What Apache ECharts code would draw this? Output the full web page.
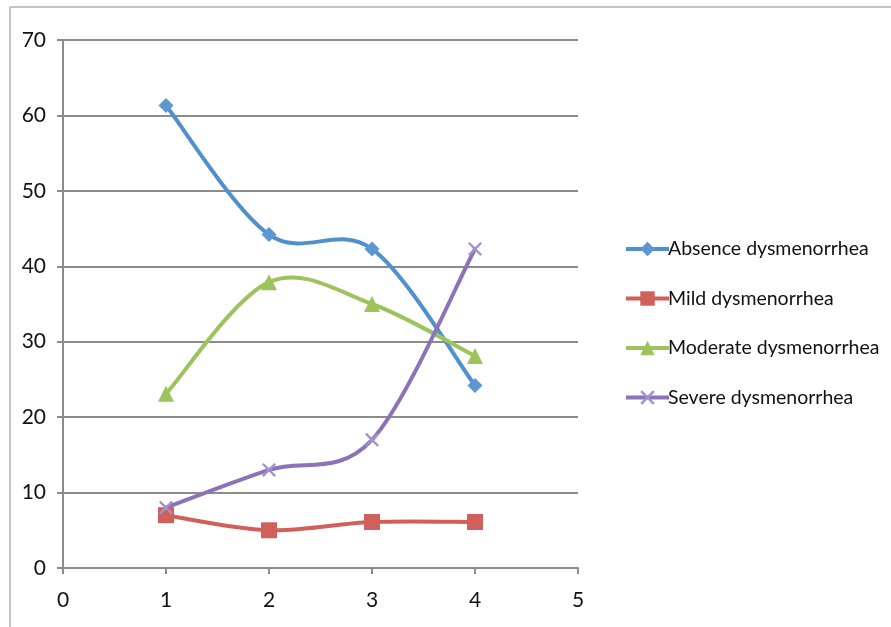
<!DOCTYPE html>
<html>
<head>
<meta charset="utf-8">
<script src="https://cdn.jsdelivr.net/npm/echarts@6/dist/echarts.min.js"></script>
<style>html,body{margin:0;padding:0;background:#fff;}#c{width:891px;height:627px;}</style>
</head>
<body>
<div id="c"></div>
<script>
const xValues = [1, 2, 3, 4];
const seriesNames = ['Absence dysmenorrhea', 'Mild dysmenorrhea', 'Moderate dysmenorrhea', 'Severe dysmenorrhea'];
const absence = [61.3, 44.2, 42.3, 24.2];
const mild = [7, 5, 6.1, 6.1];
const moderate = [23.1, 37.9, 35, 28.1];
const severe = [8, 13, 17, 42.3];
const xTicks = [0, 1, 2, 3, 4, 5];
const yTicks = [0, 10, 20, 30, 40, 50, 60, 70];

const colors = ['#5090CD', '#D2605A', '#9CC35C', '#8C72B6'];
const markerColors = ['#5B97D0', '#D2605A', '#9CC35C', '#A491CC'];
const symbols = ['diamond', 'rect', 'triangle', 'path://M0,1.2L1.2,0L5,3.8L8.8,0L10,1.2L6.2,5L10,8.8L8.8,10L5,6.2L1.2,10L0,8.8L3.8,5Z'];
const sizes = [15, 16, 16, 14];
const allData = [absence, mild, moderate, severe];
const FONT = 'Lato, "Open Sans", sans-serif';

// Smooth curve (Catmull-Rom style, like a spreadsheet's smoothed line) drawn through the axis scales
function makeCurve(arr, color) {
  return function (params, api) {
    if (params.dataIndex !== 0) return null;
    const p = xValues.map((x, j) => api.coord([x, arr[j]]));
    const n = p.length;
    const t = 1 / 6;
    const children = [];
    for (let i = 0; i < n - 1; i++) {
      const p0 = p[Math.max(i - 1, 0)], p1 = p[i], p2 = p[i + 1], p3 = p[Math.min(i + 2, n - 1)];
      children.push({
        type: 'bezierCurve',
        shape: {
          x1: p1[0], y1: p1[1], x2: p2[0], y2: p2[1],
          cpx1: p1[0] + (p2[0] - p0[0]) * t, cpy1: p1[1] + (p2[1] - p0[1]) * t,
          cpx2: p2[0] - (p3[0] - p1[0]) * t, cpy2: p2[1] - (p3[1] - p1[1]) * t
        },
        style: {stroke: color, lineWidth: 4, fill: null, lineCap: 'round'}
      });
    }
    return {type: 'group', children: children};
  };
}

const lineSeries = seriesNames.map((name, i) => ({
  name: name,
  type: 'line',
  data: xValues.map((x, j) => [x, allData[i][j]]),
  symbol: symbols[i],
  symbolSize: sizes[i],
  showAllSymbol: true,
  lineStyle: {color: colors[i], width: 4, opacity: 0},
  itemStyle: {color: markerColors[i], borderWidth: 0},
  z: 10 + i
}));
const curveSeries = seriesNames.map((name, i) => ({
  name: 'curve ' + name,
  type: 'custom',
  coordinateSystem: 'cartesian2d',
  data: xValues.map((x, j) => [x, allData[i][j]]),
  renderItem: makeCurve(allData[i], colors[i]),
  silent: true,
  z: 2 + i
}));

const chart = echarts.init(document.getElementById('c'));
chart.setOption({
  animation: false,
  graphic: [
    {type: 'line', shape: {x1: 10, y1: 7, x2: 891, y2: 7}, style: {stroke: '#b0b0b0', lineWidth: 1.5}},
    {type: 'line', shape: {x1: 10, y1: 7, x2: 10, y2: 627}, style: {stroke: '#b0b0b0', lineWidth: 1.5}}
  ],
  grid: {left: 63, right: 313, top: 40, bottom: 59, containLabel: false},
  legend: {
    orient: 'vertical', left: 619, top: 234, itemGap: 29.5,
    itemWidth: 43, itemHeight: 18,
    lineStyle: {opacity: 1, width: 4},
    textStyle: {fontFamily: FONT, fontSize: 19.5, color: '#111', padding: [0, 0, 0, -6]},
    data: seriesNames
  },
  xAxis: {
    type: 'value', min: 0, max: 5, interval: 1,
    axisLine: {show: true, lineStyle: {color: '#8c8c8c', width: 2}},
    axisTick: {show: true, length: 6, lineStyle: {color: '#8c8c8c', width: 2}},
    splitLine: {show: false},
    axisLabel: {fontFamily: FONT, fontSize: 21, color: '#111', margin: 22,
      formatter: v => xTicks.includes(v) ? String(v) : ''}
  },
  yAxis: {
    type: 'value', min: 0, max: 70, interval: 10,
    axisLine: {show: true, lineStyle: {color: '#8c8c8c', width: 2}},
    axisTick: {show: true, length: 6, lineStyle: {color: '#8c8c8c', width: 2}},
    splitLine: {show: true, lineStyle: {color: '#8c8c8c', width: 2}},
    axisLabel: {fontFamily: FONT, fontSize: 21, color: '#111', margin: 17,
      formatter: v => yTicks.includes(v) ? String(v) : ''}
  },
  series: curveSeries.concat(lineSeries)
});
</script>
</body>
</html>
